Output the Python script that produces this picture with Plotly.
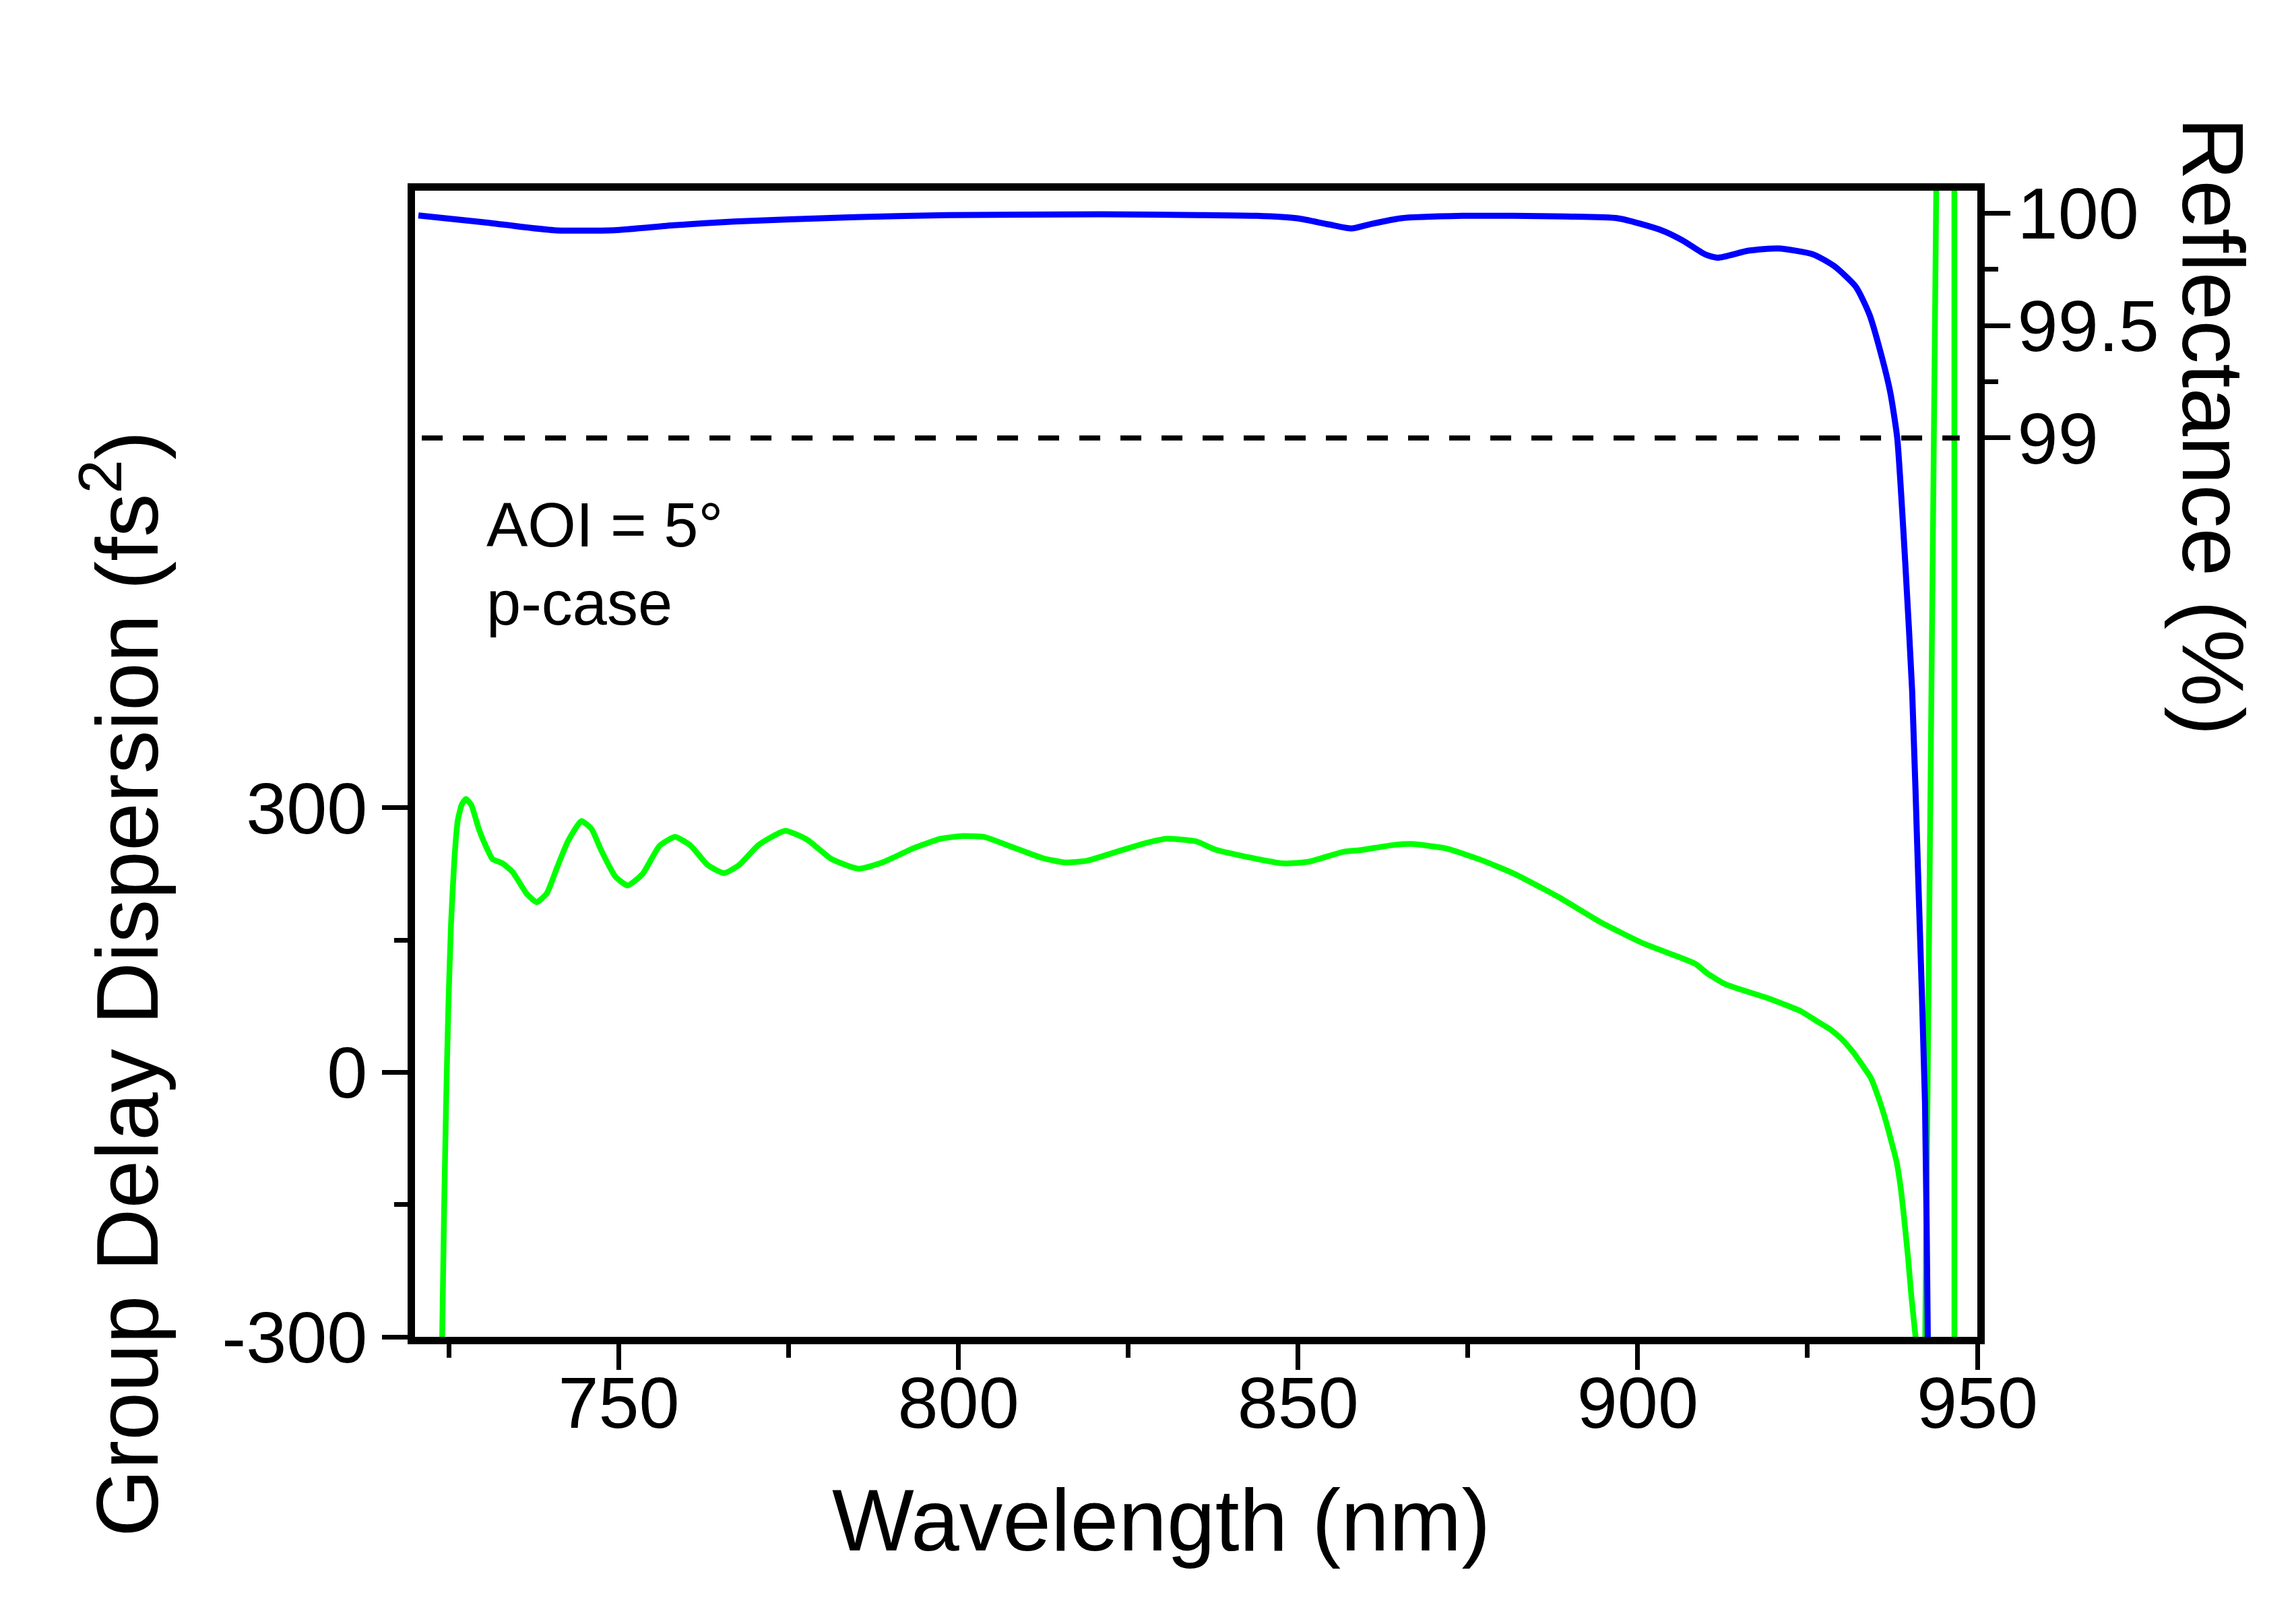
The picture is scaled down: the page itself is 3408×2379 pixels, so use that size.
import plotly.graph_objects as go

# ---------------- data ----------------
gdd_wl = [723.5, 724.0, 724.3, 724.6, 724.9, 725.3, 725.8, 726.3, 726.9, 727.5,
          728.3, 729.4, 730.4, 731.4, 732.9, 734.4, 736.4, 737.9, 739.4, 740.9,
          742.5, 744.5, 746.0, 747.4, 749.5, 751.3, 753.5, 756.0, 758.3, 760.6,
          763.1, 765.5, 767.7, 770.6, 774.5, 777.7, 781.3, 785.3, 788.8, 793.3,
          797.4, 800.6, 803.8, 808.1, 812.4, 815.7, 818.9, 823.2, 827.5, 830.7,
          835.0, 837.7, 841.5, 847.8, 851.6, 856.6, 859.1, 864.2, 866.7, 871.8,
          876.9, 881.9, 888.3, 894.6, 900.9, 906.0, 908.5, 910.3, 912.9, 919.2,
          924.1, 926.4, 928.3, 930.0, 931.7, 933.0, 934.3, 935.5, 936.6, 937.4,
          938.1, 938.7, 939.2, 939.8, 940.3, 940.9, 941.5, 942.0, 944.2, 945.0,
          946.6, 946.65, 948.0, 950.0]
gdd_val = [-560, -300, -149, -27, 71, 168, 242, 286, 304, 310,
           303, 276, 257, 242, 237, 227, 203, 193, 203, 232,
           262, 285, 276, 252, 222, 212, 225, 257, 267, 257,
           235, 226, 235, 258, 274, 264, 242, 231, 238, 254,
           265, 268, 267, 255, 243, 238, 240, 250, 260, 265,
           262, 253, 246, 237, 239, 250, 252, 258, 259, 254,
           241, 225, 199, 170, 146, 131, 123, 112, 100, 84,
           69, 58, 49, 38, 23, 9, -6, -30, -57, -80,
           -101, -130, -164, -210, -255, -300, -360, -560, 1200, 3000,
           5000, -5000, -3000, -3000]

refl_wl = [720.5, 730.0, 740.5, 749.3, 758.1, 767.0, 783.3, 798.4, 821.1, 836.3,
           843.9, 849.9, 854.5, 857.9, 860.5, 865.1, 874.2, 881.7, 889.3, 897.1,
           903.5, 906.6, 909.9, 911.8, 916.3, 920.7, 925.8, 928.9, 932.1, 934.1,
           936.0, 937.2, 938.2, 938.8, 939.4, 940.4, 941.3, 942.3, 942.7, 943.5,
           950.0]
refl_val = [99.99, 99.96, 99.924, 99.924, 99.946, 99.963, 99.981, 99.991, 99.995, 99.991,
            99.988, 99.977, 99.95, 99.932, 99.95, 99.977, 99.988, 99.988, 99.985, 99.977,
            99.924, 99.879, 99.817, 99.802, 99.833, 99.843, 99.817, 99.765, 99.673, 99.55,
            99.353, 99.2, 99.001, 98.743, 98.438, 97.876, 97.04, 96.04, 95.01, 92.0,
            80.0]

ref_line_wl = [721.0, 947.4]
ref_line_val = [99.0, 99.0]

x_ticks = [750, 800, 850, 900, 950]
gdd_ticks = [-300, 0, 300]
gdd_ticklabels = ["-300", "0", "300"]
gdd_minor = [-150, 150]
refl_ticks = [99, 99.5, 100]
refl_ticklabels = ["99", "99.5", "100"]
refl_minor = [99.25, 99.75]

# ---------------- layout geometry ----------------
W, H = 3408, 2379
ML, MR, MT, MB = 608, 481, 275, 403
PW, PH = W - ML - MR, H - MT - MB
FONT = "Liberation Sans, Arial, sans-serif"


def px_x(px):
    return (px - ML) / PW


def px_y(py):
    return (H - MB - py) / PH


# smooth part of the GDD curve and the steep resonance part
split = gdd_wl.index(941.5)

fig = go.Figure()
fig.add_trace(go.Scatter(x=gdd_wl[:split + 1], y=gdd_val[:split + 1], mode="lines",
                         line=dict(color="#00ff00", width=8.5, shape="spline", smoothing=0.5),
                         yaxis="y", showlegend=False))
fig.add_trace(go.Scatter(x=gdd_wl[split:], y=gdd_val[split:], mode="lines",
                         line=dict(color="#00ff00", width=8.5),
                         yaxis="y", showlegend=False))
fig.add_trace(go.Scatter(x=refl_wl, y=refl_val, mode="lines",
                         line=dict(color="#0000ff", width=9, shape="spline", smoothing=0.6),
                         yaxis="y2", showlegend=False))
fig.add_trace(go.Scatter(x=ref_line_wl, y=ref_line_val, mode="lines",
                         line=dict(color="black", width=7.5, dash="31px,30px"),
                         yaxis="y2", showlegend=False))

tickfont = dict(family=FONT, size=108, color="black")

fig.update_layout(
    width=W, height=H,
    margin=dict(l=ML, r=MR, t=MT, b=MB, pad=0),
    paper_bgcolor="white", plot_bgcolor="white",
    font=dict(family=FONT, color="black"),
    xaxis=dict(range=[720, 950], tickvals=x_ticks, ticks="outside",
               ticklen=38, tickwidth=7, tickcolor="black",
               showline=True, linewidth=11, linecolor="black", mirror=True,
               showgrid=False, zeroline=False, tickfont=tickfont,
               minor=dict(dtick=25, tick0=700, ticks="outside", ticklen=20,
                          tickwidth=7, tickcolor="black", showgrid=False),
               ticklabelstandoff=-44),
    yaxis=dict(range=[-300, 1000], tickvals=gdd_ticks, ticktext=gdd_ticklabels,
               ticks="outside", ticklen=38, tickwidth=7, tickcolor="black",
               showline=True, linewidth=11, linecolor="black",
               showgrid=False, zeroline=False, tickfont=tickfont,
               minor=dict(tickvals=gdd_minor, ticks="outside", ticklen=20,
                          tickwidth=7, tickcolor="black", showgrid=False),
               ticklabelstandoff=0),
    yaxis2=dict(range=[95, 100.1], overlaying="y", side="right",
                tickvals=refl_ticks, ticktext=refl_ticklabels, ticks="outside",
                ticklen=38, tickwidth=7, tickcolor="black",
                showline=True, linewidth=11, linecolor="black",
                showgrid=False, zeroline=False, tickfont=tickfont,
                minor=dict(tickvals=refl_minor, ticks="outside", ticklen=20,
                           tickwidth=7, tickcolor="black", showgrid=False),
                ticklabelstandoff=-11),
)

ann_font_small = dict(family=FONT, size=92, color="black")
ann_font_big = dict(family=FONT, size=129, color="black")

annotations = [
    dict(text="AOI = 5°", x=px_x(712), y=px_y(771), xanchor="left", yanchor="middle",
         font=ann_font_small),
    dict(text="p-case", x=px_x(712), y=px_y(887), xanchor="left", yanchor="middle",
         font=ann_font_small),
    dict(text="Wavelength (nm)", x=px_x(1225), y=px_y(2248), xanchor="left", yanchor="middle",
         font=ann_font_big),
    dict(text="Group Delay Dispersion (fs<sup>2</sup>)", x=px_x(171), y=px_y(1452),
         xanchor="center", yanchor="middle", textangle=-90, font=ann_font_big),
    dict(text="Reflectance (%)", x=px_x(3277), y=px_y(625),
         xanchor="center", yanchor="middle", textangle=90, font=ann_font_big),
]
for a in annotations:
    a.update(xref="paper", yref="paper", showarrow=False)
fig.update_layout(annotations=annotations)

fig.write_html("out.html")
